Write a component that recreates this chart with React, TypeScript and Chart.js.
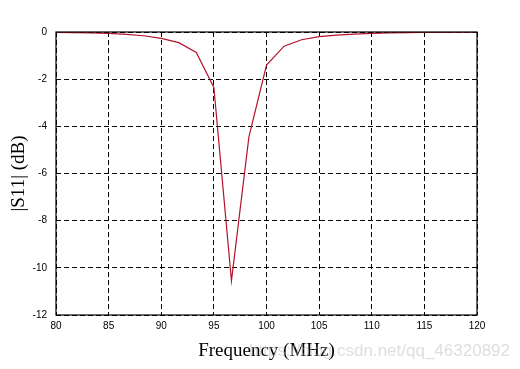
import React, { useEffect, useRef } from "react";
import { Chart, registerables } from "chart.js";

Chart.register(...registerables);

const frequencies = [80, 81.67, 83.33, 85, 86.67, 88.33, 90, 91.67, 93.33, 95, 96.67, 98.33, 100, 101.67, 103.33, 105, 106.67, 108.33, 110, 111.67, 113.33, 115, 116.67, 118.33, 120];
const s11 = [-0.02, -0.03, -0.04, -0.06, -0.1, -0.16, -0.27, -0.45, -0.87, -2.35, -10.55, -4.45, -1.4, -0.6, -0.33, -0.2, -0.13, -0.09, -0.06, -0.04, -0.03, -0.02, -0.015, -0.01, -0.01];
const xTicks = [80, 85, 90, 95, 100, 105, 110, 115, 120];
const yTicks = [0, -2, -4, -6, -8, -10, -12];
const xTitle = "Frequency (MHz)";
const yTitle = "|S11| (dB)";
const watermark = "https://blog.csdn.net/qq_46320892";

const decorPlugin = {
  id: "decor",
  afterDraw(chart: any) {
    const { ctx, chartArea } = chart;
    const { left, right, top, bottom } = chartArea;
    ctx.save();
    ctx.strokeStyle = "#000";
    ctx.lineWidth = 1.2;
    ctx.setLineDash([]);
    ctx.strokeRect(left, top, right - left, bottom - top);
    ctx.fillStyle = "#000";
    ctx.font = "19px 'Liberation Serif', 'Times New Roman', serif";
    ctx.textAlign = "center";
    ctx.textBaseline = "middle";
    ctx.fillText(xTitle, (left + right) / 2, 351);
    ctx.translate(19, (top + bottom) / 2);
    ctx.rotate(-Math.PI / 2);
    ctx.fillText(yTitle, 0, 0);
    ctx.restore();
    ctx.save();
    ctx.fillStyle = "rgba(190,190,190,0.5)";
    ctx.font = "17px 'Liberation Sans', Arial, sans-serif";
    ctx.textAlign = "right";
    ctx.textBaseline = "middle";
    ctx.fillText(watermark, 510, 351);
    ctx.restore();
  },
};

export default function App() {
  const ref = useRef<HTMLCanvasElement | null>(null);
  useEffect(() => {
    if (!ref.current) return;
    const chart = new Chart(ref.current, {
      type: "line",
      data: {
        datasets: [
          {
            data: frequencies.map((f, i) => ({ x: f, y: s11[i] })),
            borderColor: "#b4142a",
            borderWidth: 1.2,
            pointRadius: 0,
            tension: 0,
            fill: false,
          },
        ],
      },
      options: {
        animation: false,
        responsive: false,
        layout: { padding: { top: 32, right: 43, left: 0, bottom: 0 } },
        plugins: { legend: { display: false }, tooltip: { enabled: false } },
        scales: {
          x: {
            type: "linear",
            min: 80,
            max: 120,
            afterBuildTicks: (s: any) => {
              s.ticks = xTicks.map((v) => ({ value: v }));
            },
            afterFit: (s: any) => {
              s.height = 54;
            },
            ticks: {
              color: "#000",
              font: { family: "'Liberation Sans', Arial, sans-serif", size: 10 },
              padding: 5,
              maxRotation: 0,
              callback: (v: any) => String(v),
            },
            grid: {
              color: "#000",
              lineWidth: 1,
              drawTicks: false,
            },
            border: { display: false, dash: [5, 3] },
          },
          y: {
            type: "linear",
            min: -12,
            max: 0,
            afterBuildTicks: (s: any) => {
              s.ticks = yTicks.map((v) => ({ value: v }));
            },
            afterFit: (s: any) => {
              s.width = 56;
            },
            ticks: {
              color: "#000",
              font: { family: "'Liberation Sans', Arial, sans-serif", size: 10 },
              padding: 9,
              callback: (v: any) => String(v),
            },
            grid: {
              color: "#000",
              lineWidth: 1,
              drawTicks: false,
            },
            border: { display: false, dash: [5, 3] },
          },
        },
      },
      plugins: [decorPlugin],
    });
    return () => chart.destroy();
  }, []);
  return (
    <div style={{ position: "fixed", left: 0, top: 0, width: 520, height: 369, background: "#fff" }}>
      <canvas ref={ref} width={520} height={369} style={{ width: 520, height: 369 }} />
    </div>
  );
}
